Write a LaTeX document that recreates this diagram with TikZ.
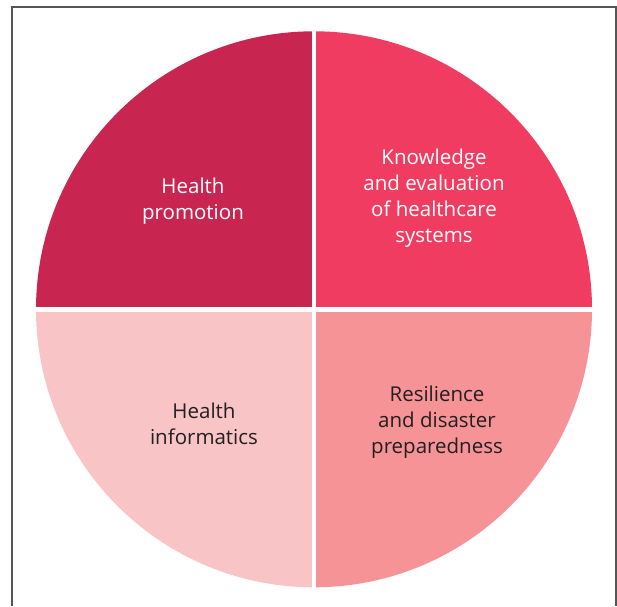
\documentclass[tikz,border=0pt]{standalone}
\usepackage{fontspec}
\setmainfont{Open Sans}
\definecolor{crimson}{RGB}{200,37,80}
\definecolor{rose}{RGB}{239,60,96}
\definecolor{blush}{RGB}{248,196,198}
\definecolor{salmon}{RGB}{245,147,150}
\definecolor{frame}{RGB}{85,85,85}
\definecolor{ink}{RGB}{35,31,32}
\begin{document}
\begin{tikzpicture}[x=1pt, y=1pt,
  every node/.style={align=center, font=\fontsize{20.5}{26}\selectfont},
  lighttext/.style={text=white},
  darktext/.style={text=ink}]
\useasboundingbox (0,0) rectangle (617,606);
% frame
\draw[frame, line width=1.3pt] (12,0) -- (12,599) -- (616,599) -- (616,0);
% quarters
\coordinate (c) at (314,296.7);
\fill[crimson] (c) -- +(-278,0) arc[start angle=180, end angle=90, radius=278] -- cycle;
\fill[rose] (c) -- +(0,278) arc[start angle=90, end angle=0, radius=278] -- cycle;
\fill[blush] (c) -- +(-278,0) arc[start angle=180, end angle=270, radius=278] -- cycle;
\fill[salmon] (c) -- +(0,-278) arc[start angle=270, end angle=360, radius=278] -- cycle;
\draw[white, line width=4.8pt] (c) ++(0,-282) -- ++(0,564);
\draw[white, line width=4.8pt] (c) ++(-282,0) -- ++(564,0);
% labels
\node[lighttext] (promo) at (193,405) {Health\\promotion};
\node[lighttext] (systems) at (434,408) {Knowledge\\and evaluation\\of healthcare\\systems};
\node[darktext] (informatics) at (204,182) {Health\\informatics};
\node[darktext] (resilience) at (437,184) {Resilience\\and disaster\\preparedness};
\end{tikzpicture}
\end{document}
